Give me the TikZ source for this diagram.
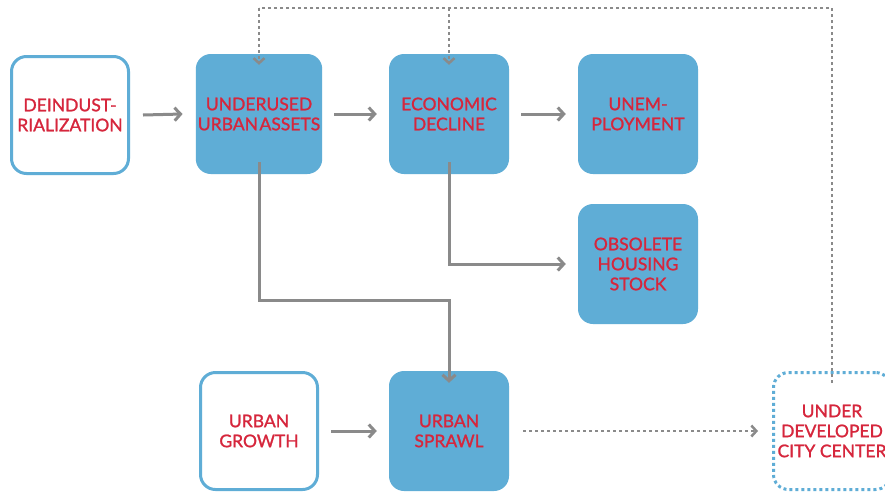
\documentclass[tikz,border=0pt]{standalone}
\usepackage{fontspec}
\setmainfont{Lato}[AutoFakeBold=1.6]
\newfontfamily\boxfont{Lato}[FakeBold=1.3]
\usetikzlibrary{arrows.meta}
\definecolor{boxblue}{RGB}{95,173,214}
\definecolor{txtred}{RGB}{214,38,60}
\definecolor{arrgray}{RGB}{138,138,138}
\tikzset{
  base/.style={rounded corners=15pt, minimum width=120pt, minimum height=120pt,
    align=center, text=txtred, font=\boxfont\fontsize{17.5}{20}\selectfont, inner sep=2pt},
  filledbox/.style={base, fill=boxblue},
  openbox/.style={base, draw=boxblue, line width=3pt, fill=white, minimum width=117pt, minimum height=117pt},
  dotbox/.style={base, draw=boxblue, line width=3pt, dash pattern=on 3pt off 3pt, fill=white, minimum width=117pt, minimum height=117pt},
  flow/.style={draw=arrgray, line width=3pt, -{Straight Barb[length=6pt,width=13pt,line width=3pt]}},
  loopflow/.style={draw=arrgray, line width=2.5pt, dash pattern=on 3pt off 3pt, -{Straight Barb[length=5pt,width=11pt,line width=2.5pt]}},
  loopline/.style={draw=arrgray, line width=2.5pt, dash pattern=on 3pt off 3pt}
}
\begin{document}
\begin{tikzpicture}[x=1pt,y=-1pt]
\useasboundingbox (0,0) rectangle (885,491);
\clip (0,0) rectangle (885,491);
\fill[white] (0,0) rectangle (885,491);

\node[openbox]   (deind)  at (70,115)  {DEINDUST-\\RIALIZATION};
\node[filledbox] (under)  at (259,114) {UNDERUSED\\URBAN\hspace{1.5pt}ASSETS};
\node[filledbox] (econ)   at (449,114) {ECONOMIC\\DECLINE};
\node[filledbox] (unemp)  at (638,114) {UNEM-\\PLOYMENT};
\node[filledbox] (obs)    at (638,264) {OBSOLETE\\HOUSING\\STOCK};
\node[openbox]   (growth) at (259,431) {URBAN\\GROWTH};
\node[filledbox] (sprawl) at (449,431) {URBAN\\SPRAWL};
\node[dotbox]    (city)   at (832,431) {UNDER\\DEVELOPED\\CITY CENTER};

% main chain
\draw[flow] ([xshift=13pt]deind.east) -- ([xshift=-13pt]under.west);
\draw[flow] ([xshift=12pt]under.east) -- ([xshift=-12pt]econ.west);
\draw[flow] ([xshift=12pt]econ.east) -- ([xshift=-12pt]unemp.west);
\draw[flow] ([xshift=12pt]growth.east) -- ([xshift=-12pt]sprawl.west);

% branches downward
\coordinate (u1) at ([yshift=12pt]under.south);
\coordinate (u2) at (u1 |- 0,300);
\coordinate (u3) at (sprawl.north |- 0,300);
\draw[flow] (u1) -- (u2) -- (u3) -- ([yshift=-12pt]sprawl.north);
\coordinate (e1) at ([yshift=12pt]econ.south);
\coordinate (e2) at (e1 |- obs.west);
\draw[flow] (e1) -- (e2) -- ([xshift=-12pt]obs.west);

% outcome and feedback
\draw[loopflow] ([xshift=14pt]sprawl.east) -- ([xshift=-14pt]city.west);
\coordinate (c1) at ([yshift=-12pt]city.north);
\coordinate (c2) at (c1 |- 0,8);
\coordinate (c3) at (under.north |- 0,8);
\coordinate (c4) at (econ.north |- 0,8);
\draw[loopline] (c1) -- (c2) -- (c3);
\draw[loopflow] (c3) -- ([yshift=-11pt]under.north);
\draw[loopflow] (c4) -- ([yshift=-11pt]econ.north);
\end{tikzpicture}
\end{document}
